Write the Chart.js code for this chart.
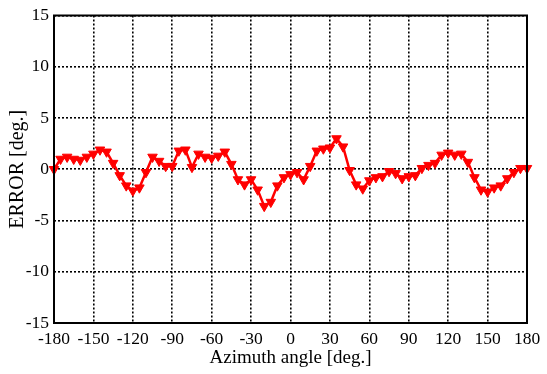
<!DOCTYPE html>
<html>
<head>
<meta charset="utf-8">
<script src="https://cdn.jsdelivr.net/npm/chart.js@4/dist/chart.umd.min.js"></script>
<style>
html,body{margin:0;padding:0;background:#fff;}
#wrap{width:547px;height:374px;}
</style>
</head>
<body>
<div id="wrap"><canvas id="c" width="547" height="374"></canvas></div>
<script>
const angles = [];
for (let a = -180; a <= 180; a += 5) angles.push(a);
const errors = [
  0.0, 1.0, 1.2, 1.0, 0.9, 1.2, 1.5, 1.9, 1.7, 0.6,
  -0.6, -1.6, -2.1, -1.8, -0.3, 1.2, 0.8, 0.3, 0.3, 1.8,
  1.9, 0.2, 1.5, 1.2, 1.1, 1.3, 1.7, 0.5, -1.0, -1.5,
  -1.0, -2.0, -3.6, -3.2, -1.6, -0.8, -0.5, -0.3, -1.0, 0.3,
  1.8, 2.0, 2.1, 3.0, 2.2, -0.1, -1.5, -1.9, -1.1, -0.8,
  -0.7, -0.2, -0.4, -0.9, -0.7, -0.6, 0.1, 0.4, 0.6, 1.4,
  1.6, 1.4, 1.5, 0.7, -0.8, -2.0, -2.2, -1.8, -1.6, -0.9,
  -0.3, 0.1, 0.1
];
const xTicks = [-180,-150,-120,-90,-60,-30,0,30,60,90,120,150,180];
const yTicks = [-15,-10,-5,0,5,10,15];
const xTitle = 'Azimuth angle [deg.]';
const yTitle = 'ERROR [deg.]';

const FONT = "'Liberation Serif', 'Times New Roman', serif";

const frame = {
  id: 'frame',
  afterDraw(chart) {
    const {ctx, chartArea: a} = chart;
    ctx.save();
    ctx.strokeStyle = '#000';
    ctx.lineWidth = 2;
    ctx.setLineDash([]);
    ctx.strokeRect(a.left, a.top, a.right - a.left, a.bottom - a.top);
    ctx.restore();
  }
};

new Chart(document.getElementById('c'), {
  type: 'line',
  data: {
    datasets: [{
      data: angles.map((a, i) => ({x: a, y: errors[i]})),
      borderColor: '#ff0000',
      backgroundColor: '#ff0000',
      borderWidth: 2.5,
      pointStyle: 'triangle',
      rotation: 180,
      pointRadius: 5.5,
      pointBorderWidth: 1,
      tension: 0,
      clip: false
    }]
  },
  options: {
    responsive: false,
    animation: false,
    devicePixelRatio: 1,
    layout: {padding: {top: 12, right: 20, left: 0, bottom: 0}},
    plugins: {legend: {display: false}, tooltip: {enabled: false}},
    scales: {
      x: {
        type: 'linear',
        min: -180, max: 180,
        afterBuildTicks: s => { s.ticks = xTicks.map(v => ({value: v})); },
        afterFit: s => { s.height = 51; },
        grid: {color: '#000', lineWidth: 1.6, drawTicks: false},
        border: {display: false, dash: [2, 2]},
        ticks: {color: '#000', font: {family: FONT, size: 17.5}, padding: 6, maxRotation: 0, autoSkip: false},
        title: {display: true, text: xTitle, color: '#000', font: {family: FONT, size: 19}, padding: {top: 0, bottom: 5}}
      },
      y: {
        type: 'linear',
        min: -15, max: 15,
        afterBuildTicks: s => { s.ticks = yTicks.map(v => ({value: v})); },
        afterFit: s => { s.width = 54; },
        grid: {color: '#000', lineWidth: 1.6, drawTicks: false},
        border: {display: false, dash: [2, 2]},
        ticks: {color: '#000', font: {family: FONT, size: 17.5}, padding: 5, autoSkip: false},
        title: {display: true, text: yTitle, color: '#000', font: {family: FONT, size: 20}, padding: {top: 6, bottom: 0}}
      }
    }
  },
  plugins: [frame]
});
</script>
</body>
</html>
